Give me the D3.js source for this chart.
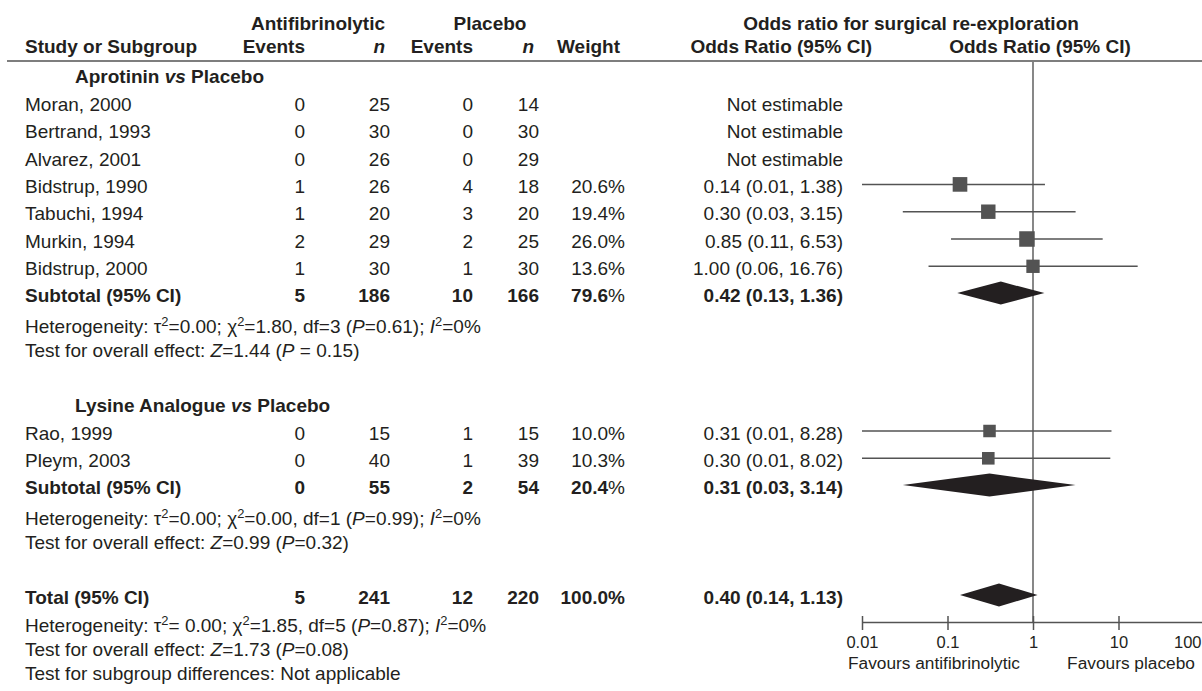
<!DOCTYPE html>
<html>
<head>
<meta charset="utf-8">
<script src="https://cdn.jsdelivr.net/npm/d3@7"></script>
<style>
  html, body { margin: 0; padding: 0; background: #fff; }
  svg { display: block; font-family: "Liberation Sans", Arial, Helvetica, sans-serif; }
</style>
</head>
<body>
<svg id="chart" width="1202" height="691"></svg>
<script>
// ---- Study-level data ----
const studyNames = ["Moran, 2000", "Bertrand, 1993", "Alvarez, 2001", "Bidstrup, 1990",
  "Tabuchi, 1994", "Murkin, 1994", "Bidstrup, 2000", "Rao, 1999", "Pleym, 2003"];
const studyGroup = [0, 0, 0, 0, 0, 0, 0, 1, 1];
const antiEvents = [0, 0, 0, 1, 1, 2, 1, 0, 0];
const antiTotal = [25, 30, 26, 26, 20, 29, 30, 15, 40];
const placEvents = [0, 0, 0, 4, 3, 2, 1, 1, 1];
const placTotal = [14, 30, 29, 18, 20, 25, 30, 15, 39];
const studyWeight = [null, null, null, 20.6, 19.4, 26.0, 13.6, 10.0, 10.3];
const studyOR = [null, null, null, 0.14, 0.30, 0.85, 1.00, 0.31, 0.30];
const studyLower = [null, null, null, 0.01, 0.03, 0.11, 0.06, 0.01, 0.01];
const studyUpper = [null, null, null, 1.38, 3.15, 6.53, 16.76, 8.28, 8.02];

// ---- Subgroup data ----
const groupNames = ["Aprotinin", "Lysine Analogue"];
const subAntiEvents = [5, 0];
const subAntiTotal = [186, 55];
const subPlacEvents = [10, 2];
const subPlacTotal = [166, 54];
const subWeight = [79.6, 20.4];
const subOR = [0.42, 0.31];
const subLower = [0.13, 0.03];
const subUpper = [1.36, 3.14];
const subTau2 = ["=0.00", "=0.00"];
const subChi2 = ["1.80", "0.00"];
const subDf = [3, 1];
const subHetP = ["0.61", "0.99"];
const subI2 = ["0%", "0%"];
const subZ = ["1.44", "0.99"];
const subZP = [" = 0.15", "=0.32"];

// ---- Overall data ----
const totalCounts = [5, 241, 12, 220];
const totalWeight = 100.0;
const totalOR = 0.40;
const totalLower = 0.14;
const totalUpper = 1.13;
const totalTau2 = "= 0.00";
const totalChi2 = "1.85";
const totalDf = 5;
const totalHetP = "0.87";
const totalI2 = "0%";
const totalZ = "1.73";
const totalZP = "=0.08";

// ---- Axis ----
const axisTicks = [0.01, 0.1, 1, 10, 100];
const axisTickLabels = ["0.01", "0.1", "1", "10", "100"];
const favourLabels = ["Favours antifibrinolytic", "Favours placebo"];

// ---- Layout ----
const W = 1202;
const ink = "#231f20";
const markGrey = "#535353";
const fs = 19;
const col = { study: 25, sub: 75, evA: 305, nA: 390, evP: 473, nP: 539, wt: 625, orTxt: 843 };
const rowStep = 27.3;
const groupHeaderY = [83, 412];
const groupFirstStudyY = [111, 439.5];
const totalY = 604;
const axisY = 622;

const svg = d3.select("#chart");
const x = d3.scaleLog().domain([0.01, 100]).range([862, 1204]);
const boxSize = d3.scaleSqrt().domain([10, 26]).range([12.5, 15.5]);

// Text writer: segments are [text, style] where style may contain "i" (italic), "b" (bold), "n" (normal), "sup"
function write(xp, yp, segs, opts = {}) {
  const t = svg.append("text")
    .attr("x", xp).attr("y", yp)
    .attr("fill", ink)
    .attr("font-size", opts.size || fs)
    .attr("font-weight", opts.bold ? "bold" : "normal")
    .attr("text-anchor", opts.anchor || "start");
  if (typeof segs === "string") segs = [[segs, ""]];
  let raised = false;
  segs.forEach(([txt, st]) => {
    const s = t.append("tspan").text(txt);
    if (st.includes("i")) s.attr("font-style", "italic");
    if (st.includes("b")) s.attr("font-weight", "bold");
    if (st.includes("n")) s.attr("font-weight", "normal");
    if (st.includes("sup")) {
      s.attr("font-size", (opts.size || fs) * 0.68);
      if (!raised) { s.attr("dy", -7); raised = true; }
    } else if (raised) {
      s.attr("dy", 7); raised = false;
    }
  });
  return t;
}

const fmt2 = d3.format(".2f");
const ciText = (m, l, u) => `${fmt2(m)} (${fmt2(l)}, ${fmt2(u)})`;

// ---- Header ----
write(318, 30, "Antifibrinolytic", { bold: true, anchor: "middle" });
write(490, 30, "Placebo", { bold: true, anchor: "middle" });
write(911, 30, "Odds ratio for surgical re-exploration", { bold: true, anchor: "middle" });
write(col.study, 53, "Study or Subgroup", { bold: true });
write(col.evA, 53, "Events", { bold: true, anchor: "end" });
write(col.nA - 5, 53, [["n", "i"]], { bold: true, anchor: "end" });
write(col.evP, 53, "Events", { bold: true, anchor: "end" });
write(col.nP - 5, 53, [["n", "i"]], { bold: true, anchor: "end" });
write(col.wt - 5, 53, "Weight", { bold: true, anchor: "end" });
write(872, 53, "Odds Ratio (95% CI)", { bold: true, anchor: "end" });
write(1040, 53, "Odds Ratio (95% CI)", { bold: true, anchor: "middle" });
svg.append("line").attr("x1", 7).attr("x2", W).attr("y1", 61).attr("y2", 61)
  .attr("stroke", markGrey).attr("stroke-width", 1.5);

// Null-effect reference line
svg.append("line").attr("x1", x(1)).attr("x2", x(1)).attr("y1", 62).attr("y2", axisY)
  .attr("stroke", "#6a6a6a").attr("stroke-width", 1.6);

function diamond(yc, m, l, u) {
  const h = 11.5;
  svg.append("path")
    .attr("d", `M${x(l)},${yc} L${x(m)},${yc - h} L${x(u)},${yc} L${x(m)},${yc + h} Z`)
    .attr("fill", ink);
}

function hetLines(y1, tau, chi, df, p, i2, z, zp) {
  write(col.study, y1, [["Heterogeneity: τ", ""], ["2", "sup"], [tau + "; χ", ""], ["2", "sup"],
    ["=" + chi + ", df=" + df + " (", ""], ["P", "i"], ["=" + p + "); ", ""], ["I", "i"], ["2", "sup"], ["=" + i2, ""]]);
  write(col.study, y1 + 23.5, [["Test for overall effect: ", ""], ["Z", "i"], ["=" + z + " (", ""], ["P", "i"], [zp + ")", ""]]);
}

// ---- Subgroups ----
groupNames.forEach((gname, g) => {
  write(col.sub, groupHeaderY[g], [[gname + " ", ""], ["vs", "i"], [" Placebo", ""]], { bold: true });
  const idx = d3.range(studyNames.length).filter(i => studyGroup[i] === g);
  idx.forEach((i, k) => {
    const y = groupFirstStudyY[g] + k * rowStep;
    write(col.study, y, studyNames[i]);
    write(col.evA, y, String(antiEvents[i]), { anchor: "end" });
    write(col.nA, y, String(antiTotal[i]), { anchor: "end" });
    write(col.evP, y, String(placEvents[i]), { anchor: "end" });
    write(col.nP, y, String(placTotal[i]), { anchor: "end" });
    if (studyOR[i] == null) {
      write(col.orTxt, y, "Not estimable", { anchor: "end" });
      return;
    }
    write(col.wt, y, studyWeight[i].toFixed(1) + "%", { anchor: "end" });
    write(col.orTxt, y, ciText(studyOR[i], studyLower[i], studyUpper[i]), { anchor: "end" });
    const yc = y - 8.5;
    svg.append("line")
      .attr("x1", x(studyLower[i])).attr("x2", x(studyUpper[i]))
      .attr("y1", yc).attr("y2", yc)
      .attr("stroke", markGrey).attr("stroke-width", 1.5);
    const s = boxSize(studyWeight[i]);
    svg.append("rect")
      .attr("x", x(studyOR[i]) - s / 2).attr("y", yc - s / 2)
      .attr("width", s).attr("height", s)
      .attr("fill", markGrey);
  });
  const ys = groupFirstStudyY[g] + idx.length * rowStep;
  write(col.study, ys, "Subtotal (95% CI)", { bold: true });
  write(col.evA, ys, String(subAntiEvents[g]), { bold: true, anchor: "end" });
  write(col.nA, ys, String(subAntiTotal[g]), { bold: true, anchor: "end" });
  write(col.evP, ys, String(subPlacEvents[g]), { bold: true, anchor: "end" });
  write(col.nP, ys, String(subPlacTotal[g]), { bold: true, anchor: "end" });
  write(col.wt, ys, [[subWeight[g].toFixed(1), "b"], ["%", "n"]], { anchor: "end" });
  write(col.orTxt, ys, ciText(subOR[g], subLower[g], subUpper[g]), { bold: true, anchor: "end" });
  diamond(ys - 9, subOR[g], subLower[g], subUpper[g]);
  hetLines(ys + 31, subTau2[g], subChi2[g], subDf[g], subHetP[g], subI2[g], subZ[g], subZP[g]);
});

// ---- Overall ----
write(col.study, totalY, "Total (95% CI)", { bold: true });
[col.evA, col.nA, col.evP, col.nP].forEach((cx, k) =>
  write(cx, totalY, String(totalCounts[k]), { bold: true, anchor: "end" }));
write(col.wt, totalY, totalWeight.toFixed(1) + "%", { bold: true, anchor: "end" });
write(col.orTxt, totalY, ciText(totalOR, totalLower, totalUpper), { bold: true, anchor: "end" });
diamond(totalY - 9, totalOR, totalLower, totalUpper);
hetLines(totalY + 28, totalTau2, totalChi2, totalDf, totalHetP, totalI2, totalZ, totalZP);
write(col.study, 680, "Test for subgroup differences: Not applicable");

// ---- Axis ----
const axis = d3.axisBottom(x).tickValues(axisTicks).tickFormat((d, i) => axisTickLabels[i])
  .tickSize(8).tickSizeOuter(0);
const ax = svg.append("g").attr("transform", `translate(0,${axisY})`).call(axis);
ax.select(".domain").attr("stroke", markGrey).attr("stroke-width", 1.5);
ax.selectAll(".tick line").attr("stroke", markGrey).attr("stroke-width", 1.5).attr("y1", -6);
ax.selectAll(".tick text").attr("fill", ink).attr("font-size", 16.5)
  .attr("font-family", "'Liberation Sans', Arial, sans-serif").attr("dy", 0).attr("y", 26);
// The last tick sits on the page edge: keep its label inside the canvas
ax.selectAll(".tick text").filter(d => x(d) > W - 14)
  .attr("text-anchor", "end")
  .attr("x", function (d) { return (W - 1) - x(d); });
write(934, 669, favourLabels[0], { size: 17.3, anchor: "middle" });
write(1131, 669, favourLabels[1], { size: 17.3, anchor: "middle" });
</script>
</body>
</html>
